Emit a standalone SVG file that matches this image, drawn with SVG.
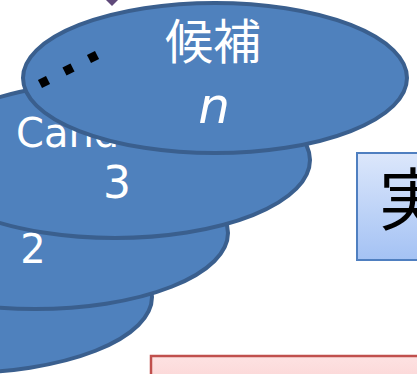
<svg xmlns="http://www.w3.org/2000/svg" width="417" height="374" viewBox="0 0 417 374">
  <defs>
    <linearGradient id="blueGrad" x1="0" y1="0" x2="0" y2="1">
      <stop offset="0" stop-color="#dce7fb"/>
      <stop offset="1" stop-color="#a4c2f4"/>
    </linearGradient>
    <linearGradient id="redGrad" x1="0" y1="0" x2="0" y2="1">
      <stop offset="0" stop-color="#fde2e2"/>
      <stop offset="1" stop-color="#fbd0d0"/>
    </linearGradient>
  </defs>
  <style>
    .ell { fill: #4f81bd; stroke: #3a5f8e; stroke-width: 4; }
    .wt { fill: #ffffff; font-family: "DejaVu Sans", Verdana, sans-serif; }
    .cjk { font-family: "Noto Sans CJK JP", "Noto Sans CJK SC", sans-serif; }
    .dot { fill: #000000; }
  </style>
  <rect width="417" height="374" fill="#ffffff"/>
  <g id="connectors">
    <polygon points="106,0 118,0 112,6" fill="#5f497a"/>
  </g>
  <g id="candidate1">
    <ellipse class="ell" cx="-41" cy="297" rx="193" ry="76"/>
  </g>
  <g id="candidate2">
    <ellipse class="ell" cx="35" cy="233" rx="193" ry="76"/>
    <text class="wt" x="33" y="263" font-size="40" text-anchor="middle">2</text>
  </g>
  <g id="candidate3">
    <ellipse class="ell" cx="115" cy="160" rx="195" ry="78"/>
    <text class="wt" x="16" y="147" font-size="40">Cand</text>
    <text class="wt" x="117" y="198" font-size="44" text-anchor="middle">3</text>
  </g>
  <g id="candidateN">
    <ellipse class="ell" cx="215" cy="78" rx="192" ry="75"/>
    <text class="wt cjk" x="213" y="59" font-size="48" text-anchor="middle">候補</text>
    <text class="wt" x="214" y="123" font-size="50" font-style="italic" text-anchor="middle">n</text>
    <g id="dots">
      <rect class="dot" x="-4.5" y="-4.5" width="9" height="9" transform="translate(44,82) rotate(-27)"/>
      <rect class="dot" x="-4.5" y="-4.5" width="9" height="9" transform="translate(68.5,69.5) rotate(-27)"/>
      <rect class="dot" x="-4.5" y="-4.5" width="9" height="9" transform="translate(93,57) rotate(-27)"/>
    </g>
  </g>
  <g id="jitsuBox">
    <rect x="357" y="153" width="80" height="107" fill="url(#blueGrad)" stroke="#4f7fc0" stroke-width="2"/>
    <text class="cjk" x="379" y="225" font-size="68" fill="#000000">実</text>
  </g>
  <g id="redBox">
    <rect x="151" y="356" width="290" height="40" fill="url(#redGrad)" stroke="#c0504d" stroke-width="2.5"/>
  </g>
</svg>
